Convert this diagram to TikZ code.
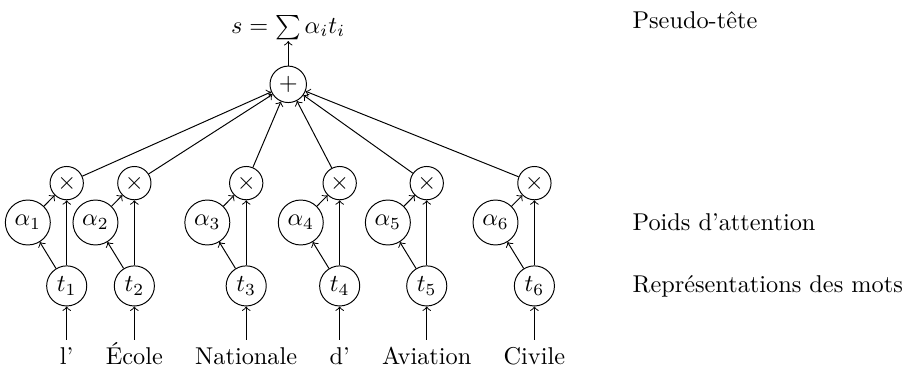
\documentclass[tikz,border=0pt]{standalone}
\usepackage{amsmath}
\usetikzlibrary{positioning}

\begin{document}
\begin{tikzpicture}[
    word/.style={text height=1.5ex, text depth=0pt},
    vec/.style={draw, circle, inner sep=1pt, minimum size=16.5pt},
    wgt/.style={draw, circle, inner sep=1pt, minimum size=18.5pt},
    prod/.style={draw, circle, inner sep=1pt, minimum size=13.7pt},
    lab/.style={inner sep=0pt}]
  \useasboundingbox (0,0) rectangle (373.2pt,152.7pt);
  % mots
  \node[word, anchor=base] (w1) at (27.45pt,2.9pt) {l’};
  \node[word, base right=6.25pt of w1] (w2) {École};
  \node[word, base right=6.25pt of w2] (w3) {Nationale};
  \node[word, base right=6.25pt of w3] (w4) {d’};
  \node[word, base right=6.25pt of w4] (w5) {Aviation};
  \node[word, base right=6.25pt of w5] (w6) {Civile};
  % somme
  \node[prod, minimum size=15pt] (plus) at (118.6pt,118pt) {$+$};
  \node[anchor=base, inner sep=0.5pt] (sum) at (118.6pt,139pt) {$s = \sum \alpha_i t_i$};
  \draw[->] (plus) -- (sum);
  \foreach \i in {1,...,6} {
    \node[vec, above=13.7pt of w\i] (t\i) {$t_\i$};
    \node[prod, above=26.8pt of t\i] (m\i) {$\times$};
    \node[wgt, shift={(-16pt,26.1pt)}] (a\i) at (t\i) {$\alpha_\i$};
    \draw[->] (w\i) -- (t\i);
    \draw[->] (t\i) -- (a\i);
    \draw[->] (t\i) -- (m\i);
    \draw[->] (a\i) -- (m\i);
    \draw[->] (m\i) -- (plus);
  }
  % legende
  \coordinate (lbl) at (260.1pt,0);
  \node[lab, anchor=base west] (lhead) at (260.1pt,140.8pt) {Pseudo-tête};
  \node[lab, anchor=west] (latt) at (lbl |- a1) {Poids d’attention};
  \node[lab, anchor=west] (lrep) at (lbl |- t1) {Représentations des mots};
\end{tikzpicture}
\end{document}
